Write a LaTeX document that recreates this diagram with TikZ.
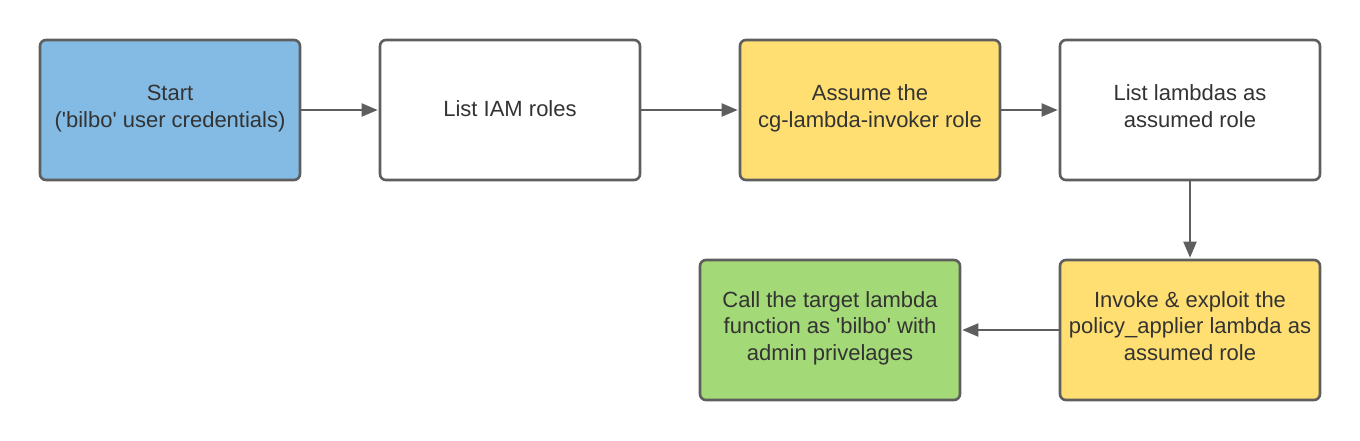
\documentclass[tikz,border=0pt]{standalone}
\usepackage{fontspec}
\setmainfont{Liberation Sans}[Ligatures=TeXOff]
\usetikzlibrary{arrows.meta}
\definecolor{bord}{HTML}{5E5E5E}
\definecolor{txt}{HTML}{333333}
\definecolor{cblue}{HTML}{83BBE5}
\definecolor{cyellow}{HTML}{FFDF71}
\definecolor{cgreen}{HTML}{A3D977}
\newcommand\topstr{\rule{0pt}{17pt}}
\newcommand\botstr{\rule[-9.3pt]{0pt}{9.3pt}}
\newcommand\botstrs{\rule[-5pt]{0pt}{5pt}}
\begin{document}
\begin{tikzpicture}[x=1pt,y=-1pt,
  box/.style={draw=bord,line width=2.6pt,rounded corners=6pt,minimum width=260pt,minimum height=140pt,
    align=center,text=txt,font=\fontsize{22pt}{26.3pt}\selectfont,inner sep=0pt},
  conn/.style={draw=bord,line width=2pt,-{Triangle[length=16pt,width=13pt]},shorten >=1pt}]
\useasboundingbox (0,0) rectangle (1360,440);
\node[box,fill=cblue] (start) at (170,110) {\topstr Start\\('bilbo' user credentials)\botstr};
\node[box,fill=white] (iam) at (510,110) {\topstr List IAM roles\botstrs};
\node[box,fill=cyellow] (assume) at (870,110) {\topstr Assume the\\cg-lambda-invoker role\botstr};
\node[box,fill=white] (list) at (1190,110) {\topstr List lambdas as\\assumed role\botstr};
\node[box,fill=cyellow] (invoke) at (1190,330) {\topstr Invoke \& exploit the\\policy\_applier lambda as\\assumed role\botstr};
\node[box,fill=cgreen] (call) at (830,330) {\topstr Call the target lambda\\function as 'bilbo' with\\admin privelages\botstr};
\draw[conn] (start) -- (iam);
\draw[conn] (iam) -- (assume);
\draw[conn] (assume) -- (list);
\draw[conn] (list) -- (invoke);
\draw[conn] (invoke) -- (call);
\end{tikzpicture}
\end{document}
